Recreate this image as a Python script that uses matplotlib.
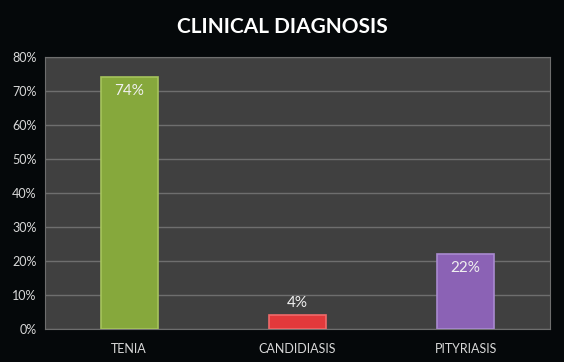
import matplotlib.pyplot as plt
import numpy as np

categories = ["TENIA", "CANDIDIASIS", "PITYRIASIS"]
values = [74, 4, 22]
colors = ["#86a83c", "#e2393b", "#8b62b5"]
yticks = [0, 10, 20, 30, 40, 50, 60, 70, 80]

plt.rcParams["font.family"] = ["Lato", "DejaVu Sans"]

fig = plt.figure(figsize=(5.64, 3.62), dpi=100)
fig.patch.set_facecolor("#05080a")
ax = fig.add_axes([0.0798, 0.0912, 0.895, 0.7513])
ax.set_facecolor("#404040")

x = np.arange(len(categories))
bars = ax.bar(x, values, width=0.34, color=colors,
              edgecolor=["#a6c45c", "#f06a6a", "#a98ad0"],
              linewidth=1.2, zorder=3)

ax.set_xlim(-0.5, len(categories) - 0.5)
ax.set_ylim(0, 80)
ax.set_yticks(yticks)
ax.set_yticklabels([f"{v}%" for v in yticks], color="#d8d8d8", fontsize=9)
ax.set_xticks(x)
ax.set_xticklabels(categories, color="#d8d8d8", fontsize=9)
ax.tick_params(length=0, pad=6)
ax.tick_params(axis="x", pad=10)

# light horizontal grid
ax.grid(axis="y", color="#6e6e6e", linewidth=1, zorder=1)
for s in ax.spines.values():
    s.set_color("#6e6e6e")

for bar, v in zip(bars, values):
    h = bar.get_height()
    if h > 10:
        ax.text(bar.get_x() + bar.get_width() / 2, h - 2, f"{v}%",
                ha="center", va="top", color="#f0f0f0", fontsize=11, zorder=4)
    else:
        ax.text(bar.get_x() + bar.get_width() / 2, h + 1.5, f"{v}%",
                ha="center", va="bottom", color="#f0f0f0", fontsize=11, zorder=4)

fig.text(0.5, 0.925, "CLINICAL DIAGNOSIS", ha="center", va="center",
         color="white", fontsize=15, fontweight="bold")

fig.savefig("out.png", dpi=100, facecolor=fig.get_facecolor())
